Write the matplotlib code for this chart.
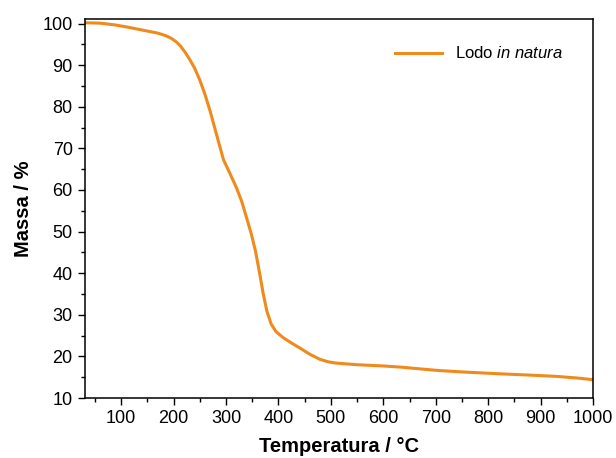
import numpy as np
import matplotlib.pyplot as plt
from matplotlib.ticker import MultipleLocator

plt.rcParams['font.family'] = ['Liberation Sans', 'DejaVu Sans']
plt.rcParams['mathtext.fontset'] = 'custom'
plt.rcParams['mathtext.rm'] = 'Liberation Sans'
plt.rcParams['mathtext.it'] = 'Liberation Sans:italic'

# TGA curve
temperatura = [30, 60, 87, 110, 130, 150, 170, 185, 195, 205, 213, 222, 231, 240, 250, 260,
               270, 283, 295, 308, 320, 330, 339, 348, 356, 364, 371, 378, 386, 395,
               409, 425, 441, 460, 479, 495, 509, 550, 600, 636, 670, 706, 760, 825,
               880, 930, 970, 1000]
massa = [100.2, 100.1, 99.7, 99.2, 98.7, 98.2, 97.7, 97.1, 96.5, 95.6, 94.6, 93.1, 91.3,
         89.3, 86.4, 82.9, 78.8, 72.8, 67.3, 63.8, 60.5, 57.2, 53.4, 49.5, 45.4, 40.0,
         35.0, 30.8, 27.8, 26.0, 24.5, 23.2, 22.0, 20.5, 19.3, 18.7, 18.4, 18.0,
         17.7, 17.4, 17.0, 16.6, 16.2, 15.8, 15.5, 15.2, 14.8, 14.4]

fig = plt.figure(figsize=(6.16, 4.58), dpi=100)
ax = fig.add_axes([0.1372, 0.131, 0.8255, 0.8275])

ax.plot(temperatura, massa, color='#F08A1C', lw=2.2, label='Lodo $\\it{in\\ natura}$')

ax.set_xlim(30, 1000)
ax.set_ylim(10, 101.1)
ax.xaxis.set_major_locator(MultipleLocator(100))
ax.xaxis.set_minor_locator(MultipleLocator(50))
ax.yaxis.set_major_locator(MultipleLocator(10))
ax.yaxis.set_minor_locator(MultipleLocator(5))
ax.tick_params(which='both', direction='out', top=False, right=False, labelsize=13, width=1)
ax.tick_params(which='major', length=5)
ax.tick_params(which='minor', length=3)
for s in ax.spines.values():
    s.set_linewidth(1.1)

ax.set_xlabel('Temperatura / °C', fontsize=14.5, fontweight='bold', labelpad=7)
ax.set_ylabel('Massa / %', fontsize=14.5, fontweight='bold', labelpad=7)

ax.legend(loc='upper right', frameon=False, fontsize=12, handlelength=2.8,
          bbox_to_anchor=(0.97, 0.97))

fig.savefig('out.png', dpi=100)
